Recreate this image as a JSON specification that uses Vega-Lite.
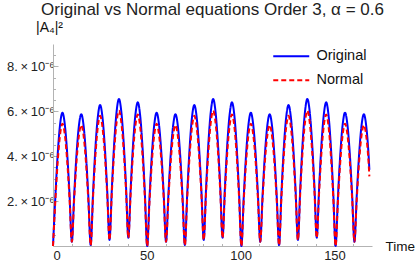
{
"$schema": "https://vega.github.io/schema/vega-lite/v6.json",
"width": 319, "height": 202,
"autosize": {"type": "none"},
"padding": {"left": 53, "top": 44, "right": 43, "bottom": 21},
"background": "white",
"config": {"view": {"stroke": null}, "font": "Liberation Sans",
  "legend": {"orient": "none", "legendX": 231, "legendY": 5, "symbolType": "M-3,0H3", "symbolSize": 144, "symbolStrokeWidth": 2, "labelFontSize": 14.5, "labelFont": "Liberation Sans", "labelColor": "#111", "rowPadding": 9, "labelOffset": 18, "padding": 0, "title": null}},
"title": {"text": "Original vs Normal equations Order 3, α = 0.6", "fontSize": 17, "fontWeight": "normal", "font": "Liberation Sans", "color": "#222", "anchor": "middle", "frame": "group", "offset": 1},
"data": {"values": [
{"t":0,"Original":0,"Normal":0},
{"t":1.26,"Original":2.20e-6,"Normal":2.02e-6},
{"t":2.51,"Original":4.10e-6,"Normal":3.76e-6},
{"t":3.77,"Original":5.41e-6,"Normal":4.96e-6},
{"t":5.02,"Original":5.94e-6,"Normal":5.45e-6},
{"t":6.28,"Original":5.42e-6,"Normal":4.98e-6},
{"t":7.53,"Original":4.16e-6,"Normal":3.82e-6},
{"t":8.79,"Original":2.32e-6,"Normal":2.14e-6},
{"t":10.04,"Original":0.19e-6,"Normal":0.19e-6},
{"t":11.30,"Original":2.29e-6,"Normal":2.11e-6},
{"t":12.55,"Original":4.11e-6,"Normal":3.78e-6},
{"t":13.81,"Original":5.36e-6,"Normal":4.92e-6},
{"t":15.06,"Original":5.87e-6,"Normal":5.39e-6},
{"t":16.32,"Original":5.35e-6,"Normal":4.91e-6},
{"t":17.57,"Original":4.06e-6,"Normal":3.73e-6},
{"t":18.83,"Original":2.20e-6,"Normal":2.02e-6},
{"t":20.08,"Original":0.04e-6,"Normal":0.04e-6},
{"t":21.34,"Original":2.35e-6,"Normal":2.17e-6},
{"t":22.59,"Original":4.35e-6,"Normal":4.01e-6},
{"t":23.85,"Original":5.72e-6,"Normal":5.28e-6},
{"t":25.10,"Original":6.28e-6,"Normal":5.80e-6},
{"t":26.36,"Original":5.74e-6,"Normal":5.30e-6},
{"t":27.61,"Original":4.42e-6,"Normal":4.09e-6},
{"t":28.87,"Original":2.49e-6,"Normal":2.32e-6},
{"t":30.12,"Original":0.27e-6,"Normal":0.27e-6},
{"t":31.38,"Original":2.59e-6,"Normal":2.40e-6},
{"t":32.63,"Original":4.60e-6,"Normal":4.24e-6},
{"t":33.89,"Original":5.98e-6,"Normal":5.51e-6},
{"t":35.14,"Original":6.55e-6,"Normal":6.03e-6},
{"t":36.40,"Original":5.99e-6,"Normal":5.52e-6},
{"t":37.65,"Original":4.63e-6,"Normal":4.28e-6},
{"t":38.91,"Original":2.66e-6,"Normal":2.46e-6},
{"t":40.16,"Original":0.37e-6,"Normal":0.37e-6},
{"t":41.42,"Original":2.60e-6,"Normal":2.40e-6},
{"t":42.67,"Original":4.53e-6,"Normal":4.16e-6},
{"t":43.93,"Original":5.86e-6,"Normal":5.37e-6},
{"t":45.18,"Original":6.40e-6,"Normal":5.86e-6},
{"t":46.44,"Original":5.82e-6,"Normal":5.33e-6},
{"t":47.69,"Original":4.42e-6,"Normal":4.04e-6},
{"t":48.95,"Original":2.37e-6,"Normal":2.17e-6},
{"t":50.20,"Original":0,"Normal":0},
{"t":51.46,"Original":2.20e-6,"Normal":2.02e-6},
{"t":52.71,"Original":4.10e-6,"Normal":3.76e-6},
{"t":53.97,"Original":5.41e-6,"Normal":4.96e-6},
{"t":55.22,"Original":5.94e-6,"Normal":5.45e-6},
{"t":56.48,"Original":5.42e-6,"Normal":4.98e-6},
{"t":57.73,"Original":4.16e-6,"Normal":3.82e-6},
{"t":58.99,"Original":2.32e-6,"Normal":2.14e-6},
{"t":60.24,"Original":0.19e-6,"Normal":0.19e-6},
{"t":61.50,"Original":2.29e-6,"Normal":2.11e-6},
{"t":62.75,"Original":4.11e-6,"Normal":3.78e-6},
{"t":64.01,"Original":5.36e-6,"Normal":4.92e-6},
{"t":65.26,"Original":5.87e-6,"Normal":5.39e-6},
{"t":66.52,"Original":5.35e-6,"Normal":4.91e-6},
{"t":67.77,"Original":4.06e-6,"Normal":3.73e-6},
{"t":69.03,"Original":2.20e-6,"Normal":2.02e-6},
{"t":70.28,"Original":0.04e-6,"Normal":0.04e-6},
{"t":71.54,"Original":2.35e-6,"Normal":2.17e-6},
{"t":72.79,"Original":4.35e-6,"Normal":4.01e-6},
{"t":74.05,"Original":5.72e-6,"Normal":5.28e-6},
{"t":75.30,"Original":6.28e-6,"Normal":5.80e-6},
{"t":76.56,"Original":5.74e-6,"Normal":5.30e-6},
{"t":77.81,"Original":4.42e-6,"Normal":4.09e-6},
{"t":79.07,"Original":2.49e-6,"Normal":2.32e-6},
{"t":80.32,"Original":0.27e-6,"Normal":0.27e-6},
{"t":81.58,"Original":2.59e-6,"Normal":2.40e-6},
{"t":82.83,"Original":4.60e-6,"Normal":4.24e-6},
{"t":84.09,"Original":5.98e-6,"Normal":5.51e-6},
{"t":85.34,"Original":6.55e-6,"Normal":6.03e-6},
{"t":86.60,"Original":5.99e-6,"Normal":5.52e-6},
{"t":87.85,"Original":4.63e-6,"Normal":4.28e-6},
{"t":89.11,"Original":2.66e-6,"Normal":2.46e-6},
{"t":90.36,"Original":0.37e-6,"Normal":0.37e-6},
{"t":91.62,"Original":2.60e-6,"Normal":2.40e-6},
{"t":92.87,"Original":4.53e-6,"Normal":4.16e-6},
{"t":94.13,"Original":5.86e-6,"Normal":5.37e-6},
{"t":95.38,"Original":6.40e-6,"Normal":5.86e-6},
{"t":96.64,"Original":5.82e-6,"Normal":5.33e-6},
{"t":97.89,"Original":4.42e-6,"Normal":4.04e-6},
{"t":99.15,"Original":2.37e-6,"Normal":2.17e-6},
{"t":100.40,"Original":0,"Normal":0},
{"t":101.66,"Original":2.20e-6,"Normal":2.02e-6},
{"t":102.91,"Original":4.10e-6,"Normal":3.76e-6},
{"t":104.17,"Original":5.41e-6,"Normal":4.96e-6},
{"t":105.42,"Original":5.94e-6,"Normal":5.45e-6},
{"t":106.68,"Original":5.42e-6,"Normal":4.98e-6},
{"t":107.93,"Original":4.16e-6,"Normal":3.82e-6},
{"t":109.19,"Original":2.32e-6,"Normal":2.14e-6},
{"t":110.44,"Original":0.19e-6,"Normal":0.19e-6},
{"t":111.70,"Original":2.29e-6,"Normal":2.11e-6},
{"t":112.95,"Original":4.11e-6,"Normal":3.78e-6},
{"t":114.21,"Original":5.36e-6,"Normal":4.92e-6},
{"t":115.46,"Original":5.87e-6,"Normal":5.39e-6},
{"t":116.72,"Original":5.35e-6,"Normal":4.91e-6},
{"t":117.97,"Original":4.06e-6,"Normal":3.73e-6},
{"t":119.23,"Original":2.20e-6,"Normal":2.02e-6},
{"t":120.48,"Original":0.04e-6,"Normal":0.04e-6},
{"t":121.74,"Original":2.35e-6,"Normal":2.17e-6},
{"t":122.99,"Original":4.35e-6,"Normal":4.01e-6},
{"t":124.25,"Original":5.72e-6,"Normal":5.28e-6},
{"t":125.50,"Original":6.28e-6,"Normal":5.80e-6},
{"t":126.76,"Original":5.74e-6,"Normal":5.30e-6},
{"t":128.01,"Original":4.42e-6,"Normal":4.09e-6},
{"t":129.27,"Original":2.49e-6,"Normal":2.32e-6},
{"t":130.52,"Original":0.27e-6,"Normal":0.27e-6},
{"t":131.78,"Original":2.59e-6,"Normal":2.40e-6},
{"t":133.03,"Original":4.60e-6,"Normal":4.24e-6},
{"t":134.29,"Original":5.98e-6,"Normal":5.51e-6},
{"t":135.54,"Original":6.55e-6,"Normal":6.03e-6},
{"t":136.80,"Original":5.99e-6,"Normal":5.52e-6},
{"t":138.05,"Original":4.63e-6,"Normal":4.28e-6},
{"t":139.31,"Original":2.66e-6,"Normal":2.46e-6},
{"t":140.56,"Original":0.37e-6,"Normal":0.37e-6},
{"t":141.82,"Original":2.60e-6,"Normal":2.40e-6},
{"t":143.07,"Original":4.53e-6,"Normal":4.16e-6},
{"t":144.33,"Original":5.86e-6,"Normal":5.37e-6},
{"t":145.58,"Original":6.40e-6,"Normal":5.86e-6},
{"t":146.84,"Original":5.82e-6,"Normal":5.33e-6},
{"t":148.09,"Original":4.42e-6,"Normal":4.04e-6},
{"t":149.35,"Original":2.37e-6,"Normal":2.17e-6},
{"t":150.60,"Original":0,"Normal":0},
{"t":151.86,"Original":2.20e-6,"Normal":2.02e-6},
{"t":153.11,"Original":4.10e-6,"Normal":3.76e-6},
{"t":154.37,"Original":5.41e-6,"Normal":4.96e-6},
{"t":155.62,"Original":5.94e-6,"Normal":5.45e-6},
{"t":156.88,"Original":5.42e-6,"Normal":4.98e-6},
{"t":158.13,"Original":4.16e-6,"Normal":3.82e-6},
{"t":159.39,"Original":2.32e-6,"Normal":2.14e-6},
{"t":160.64,"Original":0.19e-6,"Normal":0.19e-6},
{"t":161.90,"Original":2.29e-6,"Normal":2.11e-6},
{"t":163.15,"Original":4.11e-6,"Normal":3.78e-6},
{"t":164.41,"Original":5.36e-6,"Normal":4.92e-6},
{"t":165.66,"Original":5.87e-6,"Normal":5.39e-6},
{"t":166.92,"Original":5.35e-6,"Normal":4.91e-6},
{"t":168.17,"Original":4.06e-6,"Normal":3.73e-6},
{"t":168.60,"Original":3.40e-6,"Normal":3.10e-6}
]},
"transform": [{"fold": ["Original", "Normal"], "as": ["series", "v"]}],
"mark": {"type": "line", "interpolate": "monotone", "strokeWidth": 2},
"encoding": {
  "x": {"field": "t", "type": "quantitative", "scale": {"domain": [0, 170], "nice": false},
    "axis": {"title": "Time", "titleAngle": 0, "titleX": 332, "titleY": 0, "titleAlign": "left", "titleBaseline": "middle", "titleFontSize": 13.5, "titleFontWeight": "normal", "titleColor": "#111", "titleFont": "Liberation Sans",
      "values": [0,10,20,30,40,50,60,70,80,90,100,110,120,130,140,150,160],
      "labelExpr": "datum.value % 50 == 0 ? datum.label : ''",
      "labelFontSize": 13, "labelColor": "#222", "labelFont": "Liberation Sans", "labelPadding": 8.5,
      "domainColor": "#b3b3b3", "tickColor": "#b3b3b3", "grid": false,
      "tickSize": {"condition": {"test": "datum.value % 50 == 0", "value": -5}, "value": -2.5}}},
  "y": {"field": "v", "type": "quantitative", "scale": {"domain": [0, 9e-6], "nice": false, "zero": false},
    "axis": {"title": "|A₄|²", "titleAngle": 0, "titleX": -4, "titleY": -13, "titleAlign": "center", "titleBaseline": "alphabetic", "titleFontSize": 14, "titleFontWeight": "normal", "titleColor": "#111", "titleFont": "Liberation Sans",
      "values": [5e-7,1e-6,1.5e-6,2e-6,2.5e-6,3e-6,3.5e-6,4e-6,4.5e-6,5e-6,5.5e-6,6e-6,6.5e-6,7e-6,7.5e-6,8e-6,8.5e-6],
      "labelExpr": "abs(datum.value*1e6/2 - round(datum.value*1e6/2)) < 0.01 ? format(round(datum.value*1e6), 'd') + '.\u2009×\u200910⁻⁶' : ''",
      "labelFontSize": 13, "labelColor": "#222", "labelFont": "Liberation Sans", "labelPadding": 4,
      "domainColor": "#b3b3b3", "tickColor": "#b3b3b3", "grid": false,
      "tickSize": {"condition": {"test": "abs(datum.value*1e6/2 - round(datum.value*1e6/2)) < 0.01", "value": -5}, "value": -2.5}}},
  "color": {"field": "series", "type": "nominal", "scale": {"domain": ["Original", "Normal"], "range": ["#0000ff", "#ff0000"]}, "legend": {"title": null}},
  "strokeDash": {"field": "series", "type": "nominal", "scale": {"domain": ["Original", "Normal"], "range": [[1, 0], [5, 3]]}, "legend": {"title": null}}
}
}
